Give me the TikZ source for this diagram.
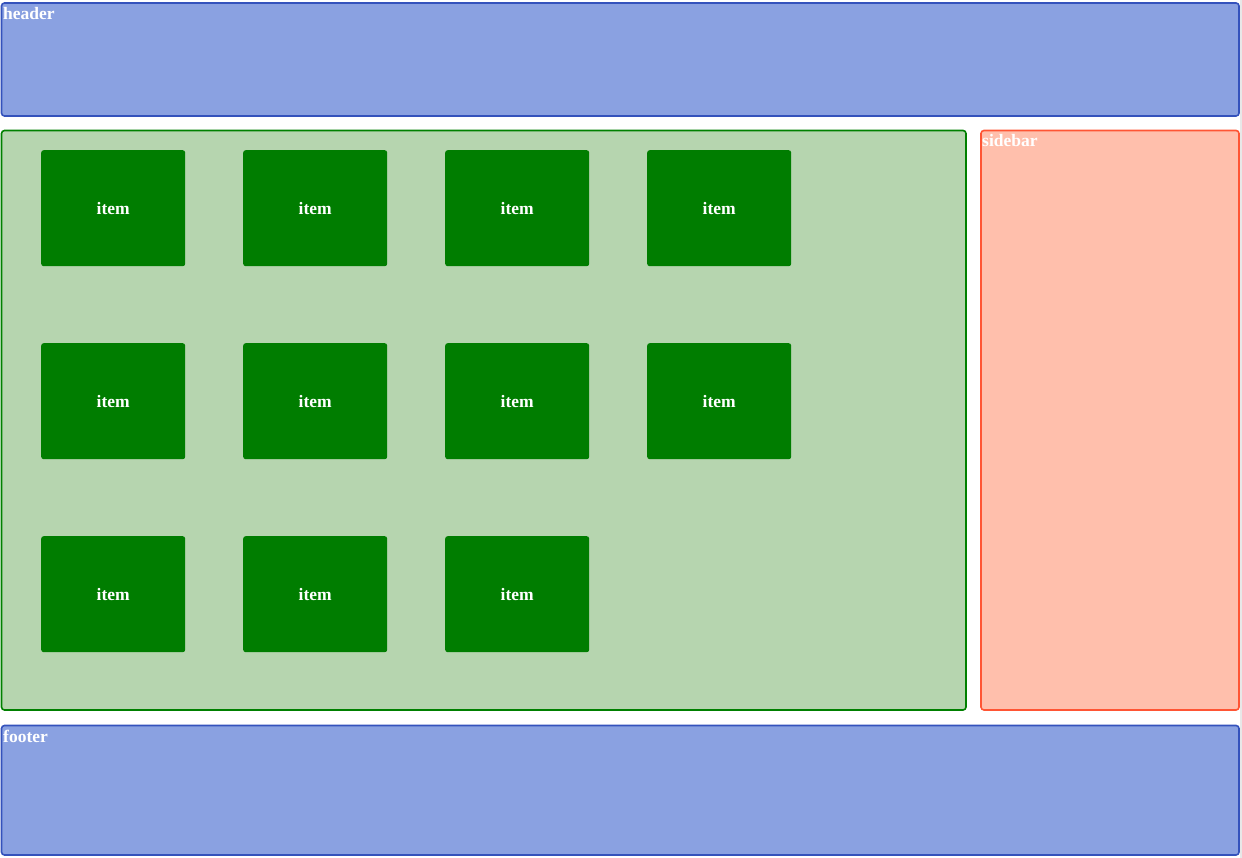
\documentclass[tikz,border=0pt]{standalone}
\usepackage{fontspec}
\setmainfont{Liberation Serif}
\definecolor{hdrfill}{HTML}{8AA1E1}
\definecolor{hdrline}{HTML}{3452BC}
\definecolor{mainfill}{HTML}{B6D5AF}
\definecolor{mainline}{HTML}{008000}
\definecolor{itemfill}{HTML}{007D00}
\definecolor{sidefill}{HTML}{FFBFAC}
\definecolor{sideline}{HTML}{FF5534}
\begin{document}
\begin{tikzpicture}[x=1pt,y=-1pt,
  area/.style={rounded corners=3pt,line width=1.6pt},
  lbl/.style={text=white,font=\bfseries\fontsize{17.5}{20}\selectfont,inner sep=0pt,anchor=base west},
  itembox/.style={fill=itemfill,rounded corners=2.5pt,minimum width=144pt,minimum height=116pt,anchor=north west,inner sep=0pt,
    text=white,font=\bfseries\fontsize{17.5}{20}\selectfont},
]
\useasboundingbox (0,0) rectangle (1242,858);
\fill[white] (0,0) rectangle (1242,858);
\fill[black!9] (1240,0) rectangle (1242,858);
% header
\draw[area,fill=hdrfill,draw=hdrline] (1.5,3) rectangle (1239,116);
\node[lbl] (hdr) at (3,20) {header};
% main
\draw[area,fill=mainfill,draw=mainline] (1.5,130.5) rectangle (966,710);
% sidebar
\draw[area,fill=sidefill,draw=sideline] (981,130.5) rectangle (1239,710);
\node[lbl] (side) at (982,147) {sidebar};
% footer
\draw[area,fill=hdrfill,draw=hdrline] (1.5,725.5) rectangle (1239,855);
\node[lbl] (foot) at (3,742) {footer};
% items
\foreach \r/\yy in {1/150,2/343,3/536}{
  \foreach \c/\xx in {1/41,2/243,3/445,4/647}{
    \ifnum\r\c=34\else
      \node[itembox] (item\r\c) at (\xx,\yy) {item};
    \fi
  }
}
\end{tikzpicture}
\end{document}
